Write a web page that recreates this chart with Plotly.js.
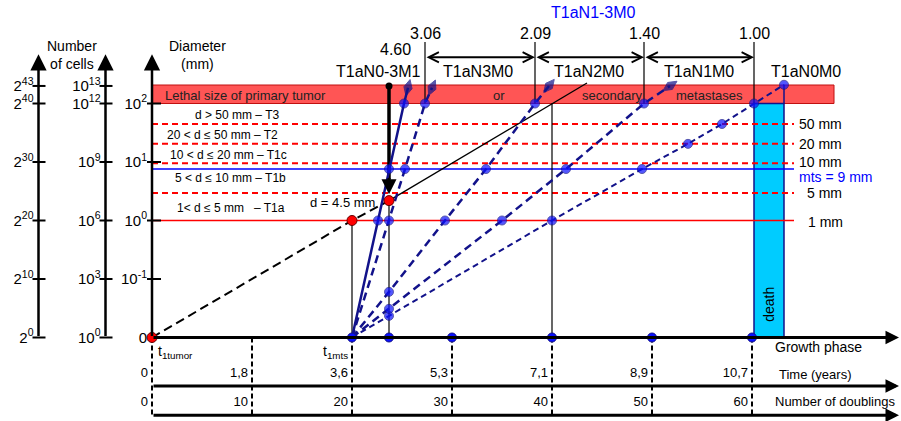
<!DOCTYPE html>
<html>
<head>
<meta charset="utf-8">
<script src="https://cdn.plot.ly/plotly-3.0.1.min.js"></script>
<style>html,body{margin:0;padding:0;background:#fff}#chart{width:901px;height:421px}</style>
</head>
<body>
<div id="chart"></div>
<script>
// ---------- data (x = number of doublings, y = log10 diameter in mm; "0" drawn at -2) ----------
const cellTickPos = [2.3, 2, 1, 0, -1, -2];
const cellPow2Text = ['2<sup>43</sup>', '2<sup>40</sup>', '2<sup>30</sup>', '2<sup>20</sup>', '2<sup>10</sup>', '2<sup>0</sup>'];
const cellPow10Text = ['10<sup>13</sup>', '10<sup>12</sup>', '10<sup>9</sup>', '10<sup>6</sup>', '10<sup>3</sup>', '10<sup>0</sup>'];
const diamTickPos = [2, 1, 0, -1, -2];
const diamTickText = ['10<sup>2</sup>', '10<sup>1</sup>', '10<sup>0</sup>', '10<sup>-1</sup>', '0'];

const doublingTicks = [0, 10, 20, 30, 40, 50, 60];
const timeYearLabels = ['0', '1,8', '3,6', '5,3', '7,1', '8,9', '10,7'];
const doublingLabels = ['0', '10', '20', '30', '40', '50', '60'];

// size classes
const classDashLevels = [1.65, 1.31, 0.98, 0.47];
const classDashLabels = ['50 mm', '20 mm', '10 mm', '5 mm'];
const oneMmLevel = 0;
const mtsLevel = 0.88;
const classNames = ['d > 50 mm \u2013 T3', '20 < d \u2264 50 mm \u2013 T2', '10 < d \u2264 20 mm \u2013 T1c', '5 < d \u2264 10 mm \u2013 T1b', '1< d \u2264 5 mm \u00a0\u00a0\u2013 T1a'];

// primary tumour growth
const primaryDashX = [0, 20, 23.7];
const primaryDashY = [-2, 0, 0.34];
const primarySolidX = [23.7, 43.5];
const primarySolidY = [0.34, 2.35];

// metastasis growth curves (last point of lines 1-4 = arrow tip)
const mts1X = [20, 22.6, 23.7, 25.2, 25.6];            const mts1Y = [-2, 0, 0.88, 2.0, 2.27];
const mts2X = [20, 23.7, 25.3, 27.3, 28.0];            const mts2Y = [-2, 0, 0.88, 2.0, 2.27];
const mts3X = [20, 23.7, 29.3, 33.4, 38.3, 39.7];      const mts3Y = [-2, -1.22, 0, 0.88, 2.0, 2.3];
const mts4X = [20, 23.7, 35.0, 41.4, 49.2, 51.8];      const mts4Y = [-2, -1.51, 0, 0.88, 2.0, 2.3];
const mts5X = [20, 23.7, 40.0, 49.0, 53.6, 57.0, 60.2, 63.2];
const mts5Y = [-2, -1.63, 0, 0.88, 1.31, 1.65, 2.0, 2.32];

const phaseDotsX = [20, 23.7, 30, 40, 50, 60];
const redDotsX = [0, 20, 23.7];
const redDotsY = [-2, 0, 0.34];

// lethal-size stages
const stageValues = ['4.60', '3.06', '2.09', '1.40', '1.00'];
const stageValueX = [24.3, 27.3, 38.3, 49.2, 60.2];
const stageNames = ['T1aN0-3M1', 'T1aN3M0', 'T1aN2M0', 'T1aN1M0', 'T1aN0M0'];
const stageNameX = [22.6, 32.6, 43.7, 54.7, 65.4];
const stageBoundX = [27.3, 38.3, 49.2, 60.2];
const deathX = [60.2, 63.2];
const lethalLow = 2, lethalHigh = 2.316;

// ---------- layout helpers ----------
const FONT = 'Liberation Sans, Arial, Helvetica, sans-serif';
const NAVY = '#12128a';
const BLUE = '#0a10ff';
const axisXs = [-11.35, -4.65, 0];
const Yrange = [-3.4274, 3.7692];
const Xrange = [-15.2, 74.9];
const timeLineY = -2.83, doublLineY = -3.33, arrowEndX = 74.7, axisTopY = 2.84;

const shapes = [];
const annotations = [];
function seg(x0, y0, x1, y1, color, width, dash, layer) {
  shapes.push({type: 'line', xref: 'x', yref: 'y', x0, y0, x1, y1, layer: layer || 'below',
    line: {color, width, dash: dash || 'solid'}});
}
function txt(x, y, text, o) {
  o = o || {};
  annotations.push(Object.assign({xref: 'x', yref: 'y', x, y, text, showarrow: false,
    font: {family: FONT, size: o.size || 14, color: o.color || '#000'},
    xanchor: o.xanchor || 'center', yanchor: 'middle'}, o.extra || {}));
}
function arrow(x, y, ax, ay, width, head, size, side, color) {
  annotations.push({xref: 'x', yref: 'y', axref: 'x', ayref: 'y', x, y, ax, ay, text: '',
    showarrow: true, arrowhead: head, arrowsize: size, arrowwidth: width,
    arrowcolor: color || '#000', arrowside: side || 'end', standoff: 0, startstandoff: 0});
}

// lethal band and death bar
shapes.push({type: 'rect', xref: 'x', yref: 'y', x0: 0, x1: 68.2, y0: lethalLow, y1: lethalHigh,
  fillcolor: '#ff5555', line: {color: '#c01010', width: 1}, layer: 'below'});
shapes.push({type: 'rect', xref: 'x', yref: 'y', x0: deathX[0], x1: deathX[1], y0: -2, y1: lethalLow,
  fillcolor: '#00ccff', line: {color: NAVY, width: 1.5}, layer: 'below'});
seg(deathX[1], lethalLow, deathX[1], 2.32, NAVY, 1.5);

// size-class lines
classDashLevels.forEach(v => seg(0, v, 64.2, v, '#ff0000', 2, '6px,4px'));
seg(0, oneMmLevel, 64.2, oneMmLevel, '#ff0000', 1.5);
seg(0, mtsLevel, 64.2, mtsLevel, '#0000ff', 1.5);

// stage boundaries above band
stageBoundX.forEach(x => seg(x, lethalLow, x, 3.05, '#000', 1.2));
// thin verticals
seg(20, -2, 20, 0, '#000', 1.2);
seg(23.7, -2, 23.7, 0.34, '#000', 1.2);
seg(40, -2, 40, 2, '#000', 1.2);

// dashed verticals of the time scale
doublingTicks.forEach(x => seg(x, -2, x, doublLineY, '#000', 2, '5px,3px'));

// tick marks on the three vertical axes
cellTickPos.forEach(v => { seg(axisXs[0] - 0.6, v, axisXs[0] + 0.7, v, '#000', 2, null, 'above');
                           seg(axisXs[1] - 0.6, v, axisXs[1] + 0.7, v, '#000', 2, null, 'above'); });
diamTickPos.slice(0, 4).forEach(v => seg(axisXs[2] - 0.5, v, axisXs[2] + 0.9, v, '#000', 2, null, 'above'));

// axis arrows
axisXs.forEach(x => arrow(x, axisTopY, x, -2, 2.5, 2, 1.3, 'end'));
[-2, timeLineY, doublLineY].forEach(y => arrow(arrowEndX, y, 0, y, 3, 2, 0.9, 'end'));

// top double arrows
for (let i = 0; i < stageBoundX.length - 1; i++) {
  arrow(stageBoundX[i + 1], 2.79, stageBoundX[i], 2.79, 2, 5, 1, 'end+start');
}
// thick black arrow towards d = 4.5 mm
arrow(23.7, 0.45, 23.7, 0.75, 3, 2, 1, 'end');

// ---------- texts ----------
txt(-8.0, 2.83, 'Number<br>of cells', {size: 14});
txt(4.5, 2.83, 'Diameter<br>(mm)', {size: 14});
txt(1.1, 2.145, 'Lethal size of primary tumor', {size: 13, xanchor: 'left', color: '#222'});
txt(34.7, 2.145, 'or', {size: 13, color: '#222'});
txt(46.0, 2.145, 'secondary', {size: 13, color: '#222'});
txt(55.7, 2.145, 'metastases', {size: 13, color: '#222'});
stageValues.forEach((s, i) => txt(stageValueX[i], i === 0 ? 2.93 : 3.205, s, {size: 16}));
stageNames.forEach((s, i) => txt(stageNameX[i], 2.54, s, {size: 16}));
txt(44.1, 3.564, 'T1aN1-3M0', {size: 16, color: '#0000ff'});

const classNameX = [8.5, 7.0, 7.6, 7.8, 7.9];
const classNameY = [1.80, 1.46, 1.12, 0.726, 0.214];
classNames.forEach((s, i) => txt(classNameX[i], classNameY[i], s, {size: 12}));
const rightLabelY = [1.65, 1.31, 0.995, 0.47];
classDashLabels.forEach((s, i) => txt(i === 3 ? 65.3 : 64.5, rightLabelY[i], s, {size: 14, xanchor: 'left'}));
txt(65.4, -0.026, '1 mm', {size: 14, xanchor: 'left'});
txt(64.5, 0.745, 'mts = 9 mm', {size: 14, xanchor: 'left', color: '#0000ff'});
txt(19.0, 0.30, 'd = 4.5 mm', {size: 13});
txt(61.7, -1.44, 'death', {size: 14, extra: {textangle: -90}});
txt(0.4, -2.25, 't<sub>1tumor</sub>', {size: 14, xanchor: 'left'});
txt(19.8, -2.25, 't<sub>1mts</sub>', {size: 14, xanchor: 'right'});
txt(62.1, -2.16, 'Growth phase', {size: 14, xanchor: 'left'});
txt(62.5, -2.64, 'Time (years)', {size: 13, xanchor: 'left'});
txt(62.1, -3.10, 'Number of doublings', {size: 13, xanchor: 'left'});

// ---------- traces ----------
function mtsTrace(xs, ys, width, dash, withArrow) {
  const n = xs.length;
  const sym = xs.map((_, i) => (i === n - 1 && withArrow) ? 'diamond-tall' : 'circle');
  const size = xs.map((_, i) => i === 0 ? 0 : (i === n - 1 && withArrow ? 12 : 9));
  const col = xs.map((_, i) => (i === n - 1 && withArrow) ? NAVY : BLUE);
  return {x: xs, y: ys, type: 'scatter', mode: 'lines+markers', hoverinfo: 'skip', showlegend: false,
    line: {color: NAVY, width, dash},
    marker: {symbol: sym, size, color: col, angleref: 'previous', line: {color: NAVY, width: 1}}};
}
const traces = [
  {x: primaryDashX, y: primaryDashY, type: 'scatter', mode: 'lines', line: {color: '#000', width: 2, dash: '9px,5px'}, hoverinfo: 'skip', showlegend: false},
  {x: primarySolidX, y: primarySolidY, type: 'scatter', mode: 'lines', line: {color: '#000', width: 1.3}, hoverinfo: 'skip', showlegend: false},
  {x: [23.7, 23.7], y: [2.3, 0.7], type: 'scatter', mode: 'lines', line: {color: '#000', width: 3.5}, hoverinfo: 'skip', showlegend: false},
  mtsTrace(mts5X, mts5Y, 2, '6px,4px', false),
  mtsTrace(mts4X, mts4Y, 2.5, '8px,5px', true),
  mtsTrace(mts3X, mts3Y, 2.5, '8px,5px', true),
  mtsTrace(mts2X, mts2Y, 2.5, '8px,5px', true),
  mtsTrace(mts1X, mts1Y, 2.5, 'solid', true),
  {x: phaseDotsX, y: phaseDotsX.map(() => -2), type: 'scatter', mode: 'markers', hoverinfo: 'skip', showlegend: false,
    marker: {size: 9, color: BLUE, line: {color: NAVY, width: 1}}},
  {x: redDotsX, y: redDotsY, type: 'scatter', mode: 'markers', hoverinfo: 'skip', showlegend: false,
    marker: {size: 10, color: '#ff0000', line: {color: '#600', width: 1}}},
  {x: [23.7], y: [2.3], type: 'scatter', mode: 'markers', hoverinfo: 'skip', showlegend: false,
    marker: {size: 7, color: '#000'}},
  // carriers for the extra axes
  {x: [0], y: [-2], xaxis: 'x', yaxis: 'y2', type: 'scatter', mode: 'markers', marker: {opacity: 0}, hoverinfo: 'skip', showlegend: false},
  {x: [0], y: [-2], xaxis: 'x', yaxis: 'y3', type: 'scatter', mode: 'markers', marker: {opacity: 0}, hoverinfo: 'skip', showlegend: false},
  {x: [0], y: [-2], xaxis: 'x2', yaxis: 'y', type: 'scatter', mode: 'markers', marker: {opacity: 0}, hoverinfo: 'skip', showlegend: false}
];

const baseAx = {showgrid: false, zeroline: false, showline: false, fixedrange: true, ticks: '',
  tickmode: 'array', tickfont: {family: FONT, size: 15, color: '#000'}};
const xTickFont = {family: FONT, size: 13, color: '#000'};
const layout = {
  width: 901, height: 421, margin: {l: 0, r: 0, t: 0, b: 0},
  paper_bgcolor: '#fff', plot_bgcolor: '#fff', showlegend: false,
  font: {family: FONT, color: '#000'},
  xaxis: Object.assign({}, baseAx, {range: Xrange, domain: [0, 1], anchor: 'free', position: 1 - 386 / 421,
    tickvals: doublingTicks, ticktext: timeYearLabels, ticklabelposition: 'inside left', ticklabelshift: -4, tickfont: xTickFont}),
  xaxis2: Object.assign({}, baseAx, {range: Xrange, overlaying: 'x', anchor: 'free', position: 1 - 415 / 421,
    tickvals: doublingTicks, ticktext: doublingLabels, ticklabelposition: 'inside left', ticklabelshift: -4, tickfont: xTickFont}),
  yaxis: Object.assign({}, baseAx, {range: Yrange, domain: [0, 1], anchor: 'free', position: 152 / 901,
    tickvals: diamTickPos, ticktext: diamTickText, ticklabelstandoff: 5}),
  yaxis2: Object.assign({}, baseAx, {range: Yrange, overlaying: 'y', anchor: 'free', position: 38.5 / 901,
    tickvals: cellTickPos, ticktext: cellPow2Text, ticklabelstandoff: 5}),
  yaxis3: Object.assign({}, baseAx, {range: Yrange, overlaying: 'y', anchor: 'free', position: 105.5 / 901,
    tickvals: cellTickPos, ticktext: cellPow10Text, ticklabelstandoff: 5}),
  shapes, annotations
};
Plotly.newPlot('chart', traces, layout, {staticPlot: true, displayModeBar: false});
</script>
</body>
</html>
